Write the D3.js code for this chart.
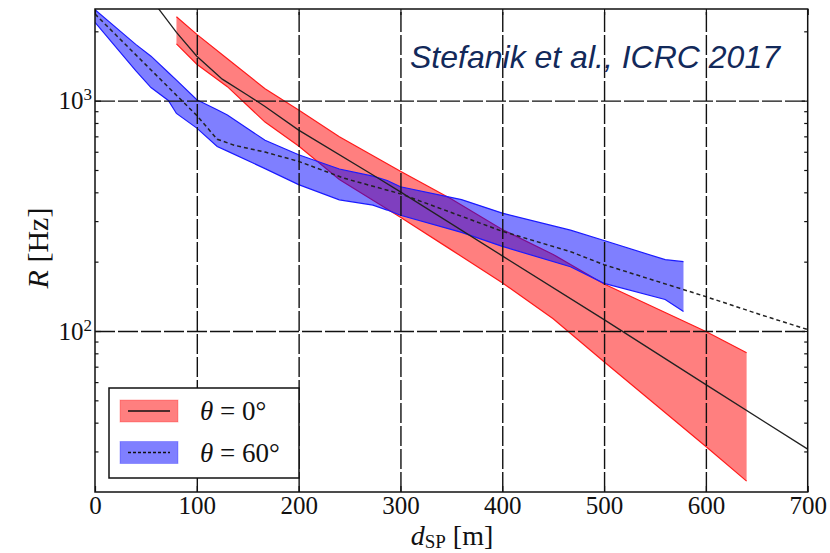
<!DOCTYPE html>
<html>
<head>
<meta charset="utf-8">
<script src="https://cdn.jsdelivr.net/npm/d3@7"></script>
<style>
    body { margin: 0; background: #fff; }
    .tick text { font-family: "Liberation Serif", "DejaVu Serif", serif; font-size: 25px; fill: #111; }
</style>
</head>
<body>
<div id="chart"></div>
<script>
// band limits for theta = 0 (red) and theta = 60 (blue)
const redDist = [80, 100, 130, 167, 200, 240, 300, 350, 400, 450, 500, 600, 640];
const redUpper = [2315, 1940, 1520, 1126, 910, 697, 494, 374, 276, 215, 160, 99.5, 80.4];
const redLower = [1765, 1440, 1150, 807, 635, 455, 312, 225, 162, 113, 73.5, 31.5, 22.3];

const blueDist = [0, 40, 55, 72, 80, 100, 120, 130, 167, 200, 240, 273, 287, 300, 360, 400, 467, 500, 560, 578];
const blueUpper = [2480, 1755, 1560, 1325, 1228, 1010, 913, 866, 673, 582, 505, 470, 450, 423, 372, 325, 274, 247, 204, 200];
const blueLower = [2188, 1350, 1140, 1002, 880, 760, 632, 604, 507, 432, 371, 352, 335, 318, 268, 233, 190, 161, 137, 121.6];

// fitted curves
const fit0Dist = [60, 80, 100, 125, 150, 167, 200, 275, 300, 400, 500, 600, 700];
const fit0Rate = [2590, 1980, 1560, 1240, 1055, 944, 745, 470, 402, 212, 112, 58.5, 30.7];
const fit60Dist = [0, 50, 100, 120, 137, 167, 200, 245, 300, 400, 467, 500, 600, 653, 700];
const fit60Rate = [2377, 1430, 862, 680, 640, 598, 545, 460, 394, 271, 221, 194, 141, 118, 101.4];

const xTicks = [0, 100, 200, 300, 400, 500, 600, 700];
const yMajor = [100, 1000];
const yMinor = [30, 40, 50, 60, 70, 80, 90, 200, 300, 400, 500, 600, 700, 800, 900, 2000];
const legendLabels = ['0°', '60°'];

const width = 830;
const height = 553;
const plotLeft = 95, plotRight = 807.7, plotTop = 9, plotBottom = 492;

const x = d3.scaleLinear().domain([0, 700]).range([plotLeft, plotRight]);
const y = d3.scaleLog().domain([20, 2500]).range([plotBottom, plotTop]);

const svg = d3.select('#chart').append('svg')
    .attr('width', width)
    .attr('height', height);

svg.append('clipPath').attr('id', 'plot-clip')
    .append('rect')
    .attr('x', plotLeft).attr('y', plotTop)
    .attr('width', plotRight - plotLeft).attr('height', plotBottom - plotTop);

const plot = svg.append('g').attr('clip-path', 'url(#plot-clip)');

const bandRows = (dist, lo, hi) => dist.map((d, i) => ({x: d, lo: lo[i], hi: hi[i]}));

const area = d3.area()
    .x(d => x(d.x))
    .y0(d => y(d.lo))
    .y1(d => y(d.hi));

const edge = key => d3.line().x(d => x(d.x)).y(d => y(d[key]));

const drawBand = (rows, fill, stroke) => {
    plot.append('path')
        .datum(rows)
        .attr('d', area)
        .attr('fill', fill);
    ['lo', 'hi'].forEach(k => {
        plot.append('path')
            .datum(rows)
            .attr('d', edge(k))
            .attr('fill', 'none')
            .attr('stroke', stroke)
            .attr('stroke-width', 1.2);
    });
};

drawBand(bandRows(redDist, redLower, redUpper), 'rgba(255,0,0,0.5)', '#ff1a1a');
drawBand(bandRows(blueDist, blueLower, blueUpper), 'rgba(0,0,255,0.5)', '#1a1aff');

//grid on top of the bands
const grid = svg.append('g').attr('class', 'grid');
grid.append('g')
    .attr('transform', `translate(0,${plotBottom})`)
    .call(d3.axisBottom(x).tickValues(xTicks.slice(1, -1)).tickSize(-(plotBottom - plotTop)).tickFormat(''));
grid.append('g')
    .attr('transform', `translate(${plotLeft},0)`)
    .call(d3.axisLeft(y).tickValues(yMajor).tickSize(-(plotRight - plotLeft)).tickFormat(''));
grid.selectAll('.domain').remove();
grid.selectAll('line')
    .attr('stroke', '#111')
    .attr('stroke-width', 1.4)
    .attr('stroke-dasharray', '20,3');

const line = d3.line().x(d => x(d[0])).y(d => y(d[1]));

plot.append('path')
    .datum(d3.zip(fit0Dist, fit0Rate))
    .attr('d', line)
    .attr('fill', 'none')
    .attr('stroke', '#222')
    .attr('stroke-width', 1.3);

plot.append('path')
    .datum(d3.zip(fit60Dist, fit60Rate))
    .attr('d', line)
    .attr('fill', 'none')
    .attr('stroke', '#222')
    .attr('stroke-width', 1.5)
    .attr('stroke-dasharray', '4,3');

//axes with inward ticks
const axes = svg.append('g').attr('class', 'axes');
axes.append('g')
    .attr('transform', `translate(0,${plotBottom})`)
    .call(d3.axisBottom(x).tickValues(xTicks).tickSizeInner(-6).tickSizeOuter(0).tickPadding(4));
axes.append('g')
    .attr('transform', `translate(0,${plotTop})`)
    .call(d3.axisTop(x).tickValues(xTicks).tickSizeInner(-6).tickSizeOuter(0).tickFormat(''));

const yAxis = axes.append('g')
    .attr('transform', `translate(${plotLeft},0)`)
    .call(d3.axisLeft(y).tickValues(yMajor).tickSizeInner(-6).tickSizeOuter(0).tickFormat(''));
axes.append('g')
    .attr('transform', `translate(${plotLeft},0)`)
    .call(d3.axisLeft(y).tickValues(yMinor).tickSizeInner(-3.5).tickSizeOuter(0).tickFormat(''));
axes.append('g')
    .attr('transform', `translate(${plotRight},0)`)
    .call(d3.axisRight(y).tickValues(yMajor).tickSizeInner(-6).tickSizeOuter(0).tickFormat(''));
axes.append('g')
    .attr('transform', `translate(${plotRight},0)`)
    .call(d3.axisRight(y).tickValues(yMinor).tickSizeInner(-3.5).tickSizeOuter(0).tickFormat(''));

axes.selectAll('.domain').remove();
axes.selectAll('.tick line')
    .attr('stroke', '#111')
    .attr('stroke-width', 1.2);

// power-of-ten labels
yAxis.selectAll('.tick').append('text')
    .attr('x', -3)
    .attr('y', 8)
    .attr('text-anchor', 'end')
    .attr('fill', '#111')
    .each(function (d) {
        const t = d3.select(this);
        t.append('tspan').text('10');
        t.append('tspan')
            .attr('font-size', '17px')
            .attr('dy', -9)
            .text(Math.round(Math.log10(d)));
    });

svg.append('rect')
    .attr('x', plotLeft).attr('y', plotTop)
    .attr('width', plotRight - plotLeft).attr('height', plotBottom - plotTop)
    .attr('fill', 'none')
    .attr('stroke', '#111')
    .attr('stroke-width', 1.5);

const serif = '"Liberation Serif", "DejaVu Serif", serif';

svg.append('text')
    .attr('transform', 'translate(48,248) rotate(-90)')
    .attr('text-anchor', 'middle')
    .attr('font-family', serif)
    .attr('font-size', 30)
    .attr('fill', '#111')
    .call(t => {
        t.append('tspan').attr('font-style', 'italic').text('R');
        t.append('tspan').text(' [Hz]');
    });

svg.append('text')
    .attr('x', 452)
    .attr('y', 545)
    .attr('text-anchor', 'middle')
    .attr('font-family', serif)
    .attr('font-size', 28)
    .attr('fill', '#111')
    .call(t => {
        t.append('tspan').attr('font-style', 'italic').text('d');
        t.append('tspan').attr('font-size', 19).attr('dy', 3).text('SP');
        t.append('tspan').attr('dy', -3).text(' [m]');
    });

svg.append('text')
    .attr('x', 410)
    .attr('y', 68)
    .attr('font-family', '"Liberation Sans", Arial, sans-serif')
    .attr('font-style', 'italic')
    .attr('font-size', 32)
    .attr('fill', '#12295a')
    .text('Stefanik et al., ICRC 2017');

//legend
const legend = svg.append('g');
legend.append('rect')
    .attr('x', 109).attr('y', 388)
    .attr('width', 190).attr('height', 90)
    .attr('fill', '#fff')
    .attr('stroke', '#111')
    .attr('stroke-width', 1.5);

const legendItems = legend.selectAll('g.item')
    .data(legendLabels)
    .join('g')
    .attr('class', 'item')
    .attr('transform', (d, i) => `translate(0,${i * 41.5})`);

legendItems.append('rect')
    .attr('x', 120).attr('y', 400)
    .attr('width', 58).attr('height', 22)
    .attr('fill', (d, i) => i === 0 ? 'rgba(255,0,0,0.5)' : 'rgba(0,0,255,0.5)')
    .attr('stroke', (d, i) => i === 0 ? 'rgba(255,0,0,0.25)' : 'rgba(0,0,255,0.25)');

legendItems.append('line')
    .attr('x1', 128).attr('x2', 170)
    .attr('y1', 411).attr('y2', 411)
    .attr('stroke', '#111')
    .attr('stroke-width', 1.4)
    .attr('stroke-dasharray', (d, i) => i === 0 ? null : '3,2');

legendItems.append('text')
    .attr('x', 200)
    .attr('y', 420)
    .attr('font-family', serif)
    .attr('font-size', 27)
    .attr('fill', '#111')
    .call(t => {
        t.append('tspan').attr('font-style', 'italic').text('θ');
        t.append('tspan').text(d => ' = ' + d);
    });
</script>
</body>
</html>
